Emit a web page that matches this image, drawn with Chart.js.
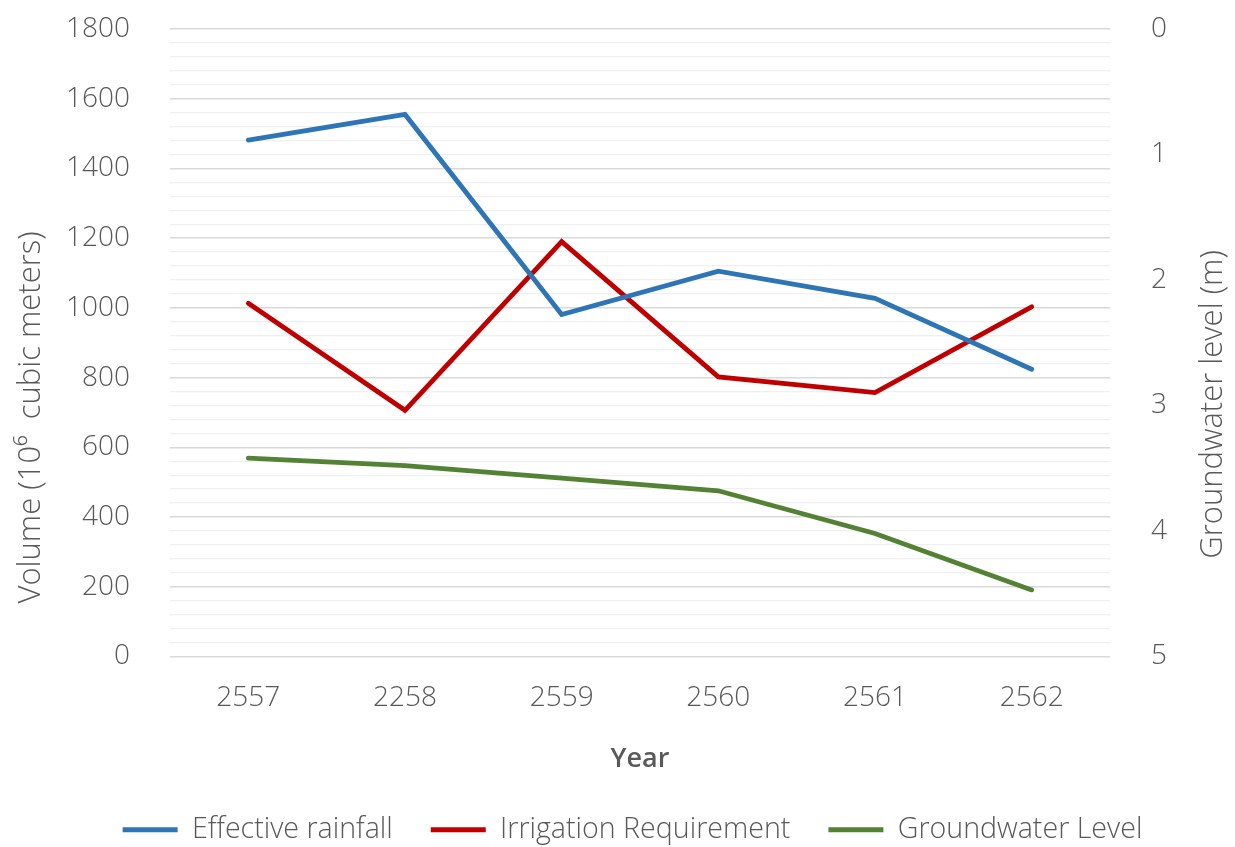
<!DOCTYPE html>
<html>
<head>
<meta charset="utf-8">
<script src="https://cdn.jsdelivr.net/npm/chart.js@4.4.1/dist/chart.umd.min.js"></script>
<style>
  html, body { margin: 0; padding: 0; background: #ffffff; }
  #wrap { width: 1235px; height: 847px; }
</style>
</head>
<body>
<div id="wrap"><canvas id="c" width="1235" height="847"></canvas></div>
<script>
const categories = ['2557', '2258', '2559', '2560', '2561', '2562'];
const effectiveRainfall = [1481, 1555, 981, 1105, 1027, 824];
const irrigationRequirement = [1013, 706, 1190, 802, 757, 1003];
const groundwaterLevel = [3.42, 3.48, 3.58, 3.68, 4.02, 4.47];
const volumeTicks = [0, 200, 400, 600, 800, 1000, 1200, 1400, 1600, 1800];
const levelTicks = [0, 1, 2, 3, 4, 5];

const FONT = "'Open Sans', 'Noto Sans', sans-serif";
const TXT = '#595959';

const axisTitles = {
  id: 'axisTitles',
  afterDraw(chart) {
    const ctx = chart.ctx;
    const a = chart.chartArea;
    ctx.save();
    ctx.fillStyle = TXT;
    ctx.font = "300 31px " + FONT;
    ctx.textAlign = 'center';
    ctx.textBaseline = 'middle';
    ctx.translate(31, a.bottom - 239);
    ctx.rotate(-Math.PI / 2);
    ctx.fillText('Volume (10\u2076  cubic meters)', 0, 0);
    ctx.restore();
    ctx.save();
    ctx.fillStyle = TXT;
    ctx.font = "300 31px " + FONT;
    ctx.textAlign = 'center';
    ctx.textBaseline = 'middle';
    ctx.translate(1213, a.bottom - 252);
    ctx.rotate(-Math.PI / 2);
    ctx.fillText('Groundwater level (m)', 0, 0);
    ctx.restore();
  }
};

new Chart(document.getElementById('c'), {
  type: 'line',
  data: {
    labels: categories,
    datasets: [
      { label: 'Effective rainfall', data: effectiveRainfall, yAxisID: 'y',
        borderColor: '#2e75b6', backgroundColor: '#2e75b6' },
      { label: 'Irrigation Requirement', data: irrigationRequirement, yAxisID: 'y',
        borderColor: '#c00000', backgroundColor: '#c00000' },
      { label: 'Groundwater Level', data: groundwaterLevel, yAxisID: 'y2',
        borderColor: '#548235', backgroundColor: '#548235' }
    ]
  },
  options: {
    responsive: false,
    animation: false,
    devicePixelRatio: 1,
    layout: { padding: { left: 30, right: 0, top: 29, bottom: -7 } },
    elements: {
      line: { borderWidth: 4.8, tension: 0, borderCapStyle: 'round', borderJoinStyle: 'miter', fill: false },
      point: { radius: 0, hoverRadius: 0 }
    },
    plugins: {
      tooltip: { enabled: false },
      legend: {
        position: 'bottom',
        labels: {
          color: TXT,
          font: { family: FONT, size: 28.6, weight: '300' },
          boxWidth: 55,
          boxHeight: 5,
          padding: 38,
          generateLabels(chart) {
            return chart.data.datasets.map((ds, i) => ({
              text: ds.label,
              fillStyle: ds.borderColor,
              strokeStyle: ds.borderColor,
              lineWidth: 0,
              fontColor: TXT,
              hidden: false,
              datasetIndex: i
            }));
          }
        }
      }
    },
    scales: {
      x: {
        type: 'category',
        offset: true,
        grid: { display: false, drawTicks: false },
        border: { display: false },
        ticks: { color: TXT, font: { family: FONT, size: 28, weight: '300' }, padding: 25, maxRotation: 0 },
        title: { display: true, text: 'Year', color: TXT,
          font: { family: FONT, size: 27, weight: '600' }, padding: { top: 0, bottom: 2 } },
        afterFit(scale) { scale.height = 121; }
      },
      y: {
        type: 'linear',
        position: 'left',
        min: 0,
        max: 1800,
        afterBuildTicks(scale) {
          const t = [];
          for (let v = 0; v <= 1800; v += 40) t.push({ value: v });
          scale.ticks = t;
        },
        grid: {
          drawTicks: true,
          tickLength: 37,
          tickColor: 'rgba(0,0,0,0)',
          color(ctx) { return volumeTicks.includes(ctx.tick.value) ? '#d9d9d9' : '#f0f0f0'; },
          lineWidth(ctx) { return volumeTicks.includes(ctx.tick.value) ? 1.5 : 1.2; }
        },
        border: { display: false },
        ticks: {
          autoSkip: false,
          color: TXT,
          font: { family: FONT, size: 28, weight: '300' },
          padding: 3,
          callback(v) { return volumeTicks.includes(v) ? String(v) : ''; }
        },
        afterFit(scale) { scale.width = 140; }
      },
      y2: {
        type: 'linear',
        position: 'right',
        reverse: true,
        min: 0,
        max: 5,
        afterBuildTicks(scale) { scale.ticks = levelTicks.map(v => ({ value: v })); },
        grid: { drawOnChartArea: false, drawTicks: true, tickLength: 38, tickColor: 'rgba(0,0,0,0)' },
        border: { display: false },
        ticks: { color: TXT, font: { family: FONT, size: 28, weight: '300' }, padding: 3 },
        afterFit(scale) { scale.width = 125; }
      }
    }
  },
  plugins: [axisTitles]
});
</script>
</body>
</html>
